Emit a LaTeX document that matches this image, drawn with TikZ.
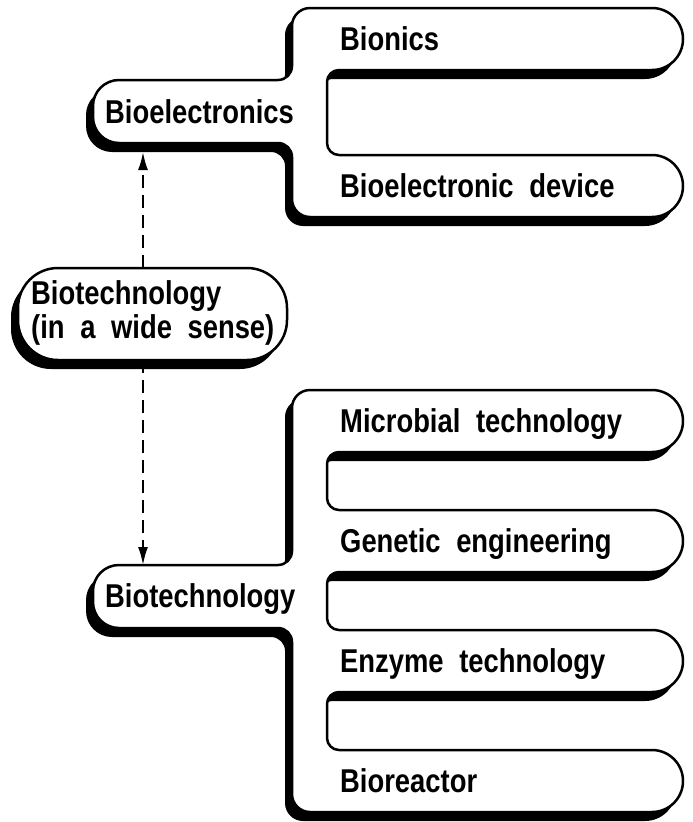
\documentclass[tikz,border=0pt]{standalone}
\usepackage{fontspec}
\newfontfamily\labfam[FakeStretch=0.83,WordSpace=2.05]{Liberation Sans}
\usetikzlibrary{arrows.meta,shadows}
\newcommand\labfont{\labfam\bfseries\fontsize{33}{34}\selectfont}
\tikzset{
  lab/.style={font=\labfont, inner sep=0pt, text height=23.6pt, text depth=0pt, anchor=west},
  shapeline/.style={draw=black, fill=white, line width=2.5pt, line join=round},
  shapeshadow/.style={fill=black, shift={(-7,9)}},
  dasharrow/.style={line width=2pt, dash pattern=on 13pt off 7pt, -{Latex[length=18pt,width=10pt]}}
}
\newcommand\topshapepath[1]{%
\path[#1] (292,26) arc[start angle=180,end angle=270,radius=18] -- (652,8)
  arc[start angle=-90,end angle=90,radius=31] -- (339,70)
  arc[start angle=270,end angle=180,radius=12] -- (327,143)
  arc[start angle=180,end angle=90,radius=12] -- (652,155)
  arc[start angle=-90,end angle=90,radius=31] -- (310,217)
  arc[start angle=90,end angle=180,radius=18] -- (292,157)
  arc[start angle=0,end angle=-90,radius=14] -- (119,143)
  arc[start angle=90,end angle=180,radius=26] -- (93,106)
  arc[start angle=180,end angle=270,radius=26] -- (278,80)
  arc[start angle=90,end angle=0,radius=14] -- cycle;}
\newcommand\botshapepath[1]{%
\path[#1] (292,408) arc[start angle=180,end angle=270,radius=18] -- (652,390)
  arc[start angle=-90,end angle=90,radius=31] -- (339,452)
  arc[start angle=270,end angle=180,radius=12] -- (327,498)
  arc[start angle=180,end angle=90,radius=12] -- (652,510)
  arc[start angle=-90,end angle=90,radius=31] -- (339,572)
  arc[start angle=270,end angle=180,radius=12] -- (327,618)
  arc[start angle=180,end angle=90,radius=12] -- (652,630)
  arc[start angle=-90,end angle=90,radius=31] -- (339,692)
  arc[start angle=270,end angle=180,radius=12] -- (327,738)
  arc[start angle=180,end angle=90,radius=12] -- (652,750)
  arc[start angle=-90,end angle=90,radius=31] -- (310,812)
  arc[start angle=90,end angle=180,radius=18] -- (292,642)
  arc[start angle=0,end angle=-90,radius=14] -- (119,628)
  arc[start angle=90,end angle=180,radius=26] -- (93,602)
  -- (93,591)
  arc[start angle=180,end angle=270,radius=26] -- (278,565)
  arc[start angle=90,end angle=0,radius=14] -- cycle;}
\begin{document}
\begin{tikzpicture}[x=1pt,y=-1pt]
\useasboundingbox[fill=white] (0,0) rectangle (693,822);
% top group
\topshapepath{shapeshadow}
\topshapepath{shapeline}
\node[lab] (bioel) at (105,112) {Bioelectronics};
\node[lab] (bionics) at (340,39) {Bionics};
\node[lab] (device) at (340,186) {Bioelectronic device};
% middle node
\node[draw=black, fill=white, line width=2.5pt, rounded corners=40pt,
      minimum width=269pt, minimum height=92pt, inner sep=0pt,
      drop shadow={shadow xshift=-7pt, shadow yshift=-9pt, opacity=1, fill=black}]
      (wide) at (152.5,314) {};
\node[font=\labfont, align=left, inner sep=0pt, anchor=west] (widetext) at (31,313)
  {Biotechnology\\(in a wide sense)};
% bottom group
\botshapepath{shapeshadow}
\botshapepath{shapeline}
\node[lab] (biotech) at (105,596) {Biotechnology};
\node[lab] (micro) at (340,421) {Microbial technology};
\node[lab] (genetic) at (340,541) {Genetic engineering};
\node[lab] (enzyme) at (340,661) {Enzyme technology};
\node[lab] (reactor) at (340,781) {Bioreactor};
% connectors
\coordinate (wideTop) at (143,268);
\coordinate (wideBot) at (143,360);
\coordinate (bioelBot) at (143,152);
\coordinate (biotechTop) at (143,565);
\draw[dasharrow] (wideTop) -- (bioelBot);
\draw[dasharrow] (wideBot) -- (biotechTop);
\end{tikzpicture}
\end{document}
